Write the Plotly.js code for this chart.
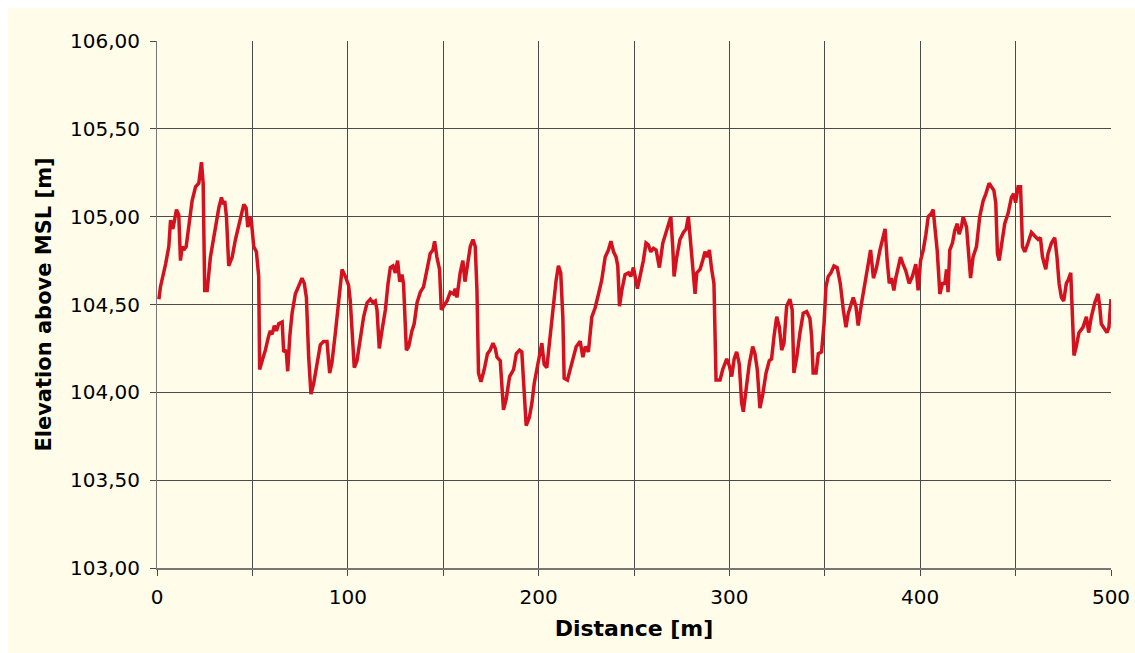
<!DOCTYPE html>
<html>
<head>
<meta charset="utf-8">
<script src="https://cdn.plot.ly/plotly-3.0.1.min.js"></script>
<style>
  html, body { margin: 0; padding: 0; background: #ffffff; width: 1135px; height: 653px; overflow: hidden; }
  #chart { position: absolute; left: 8px; top: 8px; width: 1127px; height: 645px; }
</style>
</head>
<body>
<div id="chart"></div>
<script>
// Distance along profile [m]
const distance = [
  1.0, 1.8, 4.5, 6.2, 7.1, 8.3, 9.2, 10.2, 11.4, 12.3, 13.2, 14.0, 15.3, 16.7, 18.4, 20.2, 21.9, 23.3, 24.2, 25.0,
  26.3, 28.0, 29.7, 31.5, 32.4, 33.8, 34.7, 35.5, 36.4, 37.6, 39.4, 41.1, 42.3, 43.7, 45.5, 46.7, 47.6, 48.6, 49.5, 50.7,
  52.1, 53.3, 53.8, 55.1, 56.8, 58.5, 59.4, 60.3, 61.5, 62.6, 63.8, 65.6, 66.4, 67.7, 68.5, 69.6, 70.8, 72.5, 74.3, 76.0,
  77.2, 78.3, 79.5, 80.7, 82.1, 83.9, 85.6, 87.3, 89.1, 90.5, 91.7, 93.5, 95.2, 97.0, 98.7, 100.4, 101.3, 103.4, 104.8, 106.6,
  108.3, 110.1, 111.8, 113.2, 114.4, 115.3, 116.5, 117.9, 119.7, 121.1, 122.3, 123.7, 124.9, 126.1, 127.2, 128.4, 129.2, 130.7, 131.9, 133.6,
  134.8, 136.3, 138.0, 139.7, 141.5, 143.2, 144.6, 145.5, 146.7, 148.1, 149.0, 150.2, 152.0, 153.7, 155.4, 156.3, 157.2, 158.9, 160.3, 161.4,
  162.8, 164.2, 165.6, 166.8, 167.7, 168.5, 169.8, 171.5, 173.2, 174.6, 176.1, 177.3, 178.2, 179.9, 181.6, 183.0, 184.8, 186.9, 188.3, 190.0,
  191.2, 192.1, 193.5, 195.2, 196.5, 197.7, 199.1, 200.3, 201.7, 202.9, 204.3, 205.7, 207.5, 209.2, 210.4, 211.6, 212.7, 213.4, 215.1, 216.5,
  218.0, 219.7, 221.8, 223.2, 224.5, 226.1, 227.9, 229.6, 231.4, 233.1, 234.9, 236.6, 237.9, 239.3, 240.6, 241.5, 242.4, 243.6, 245.3, 247.1,
  248.3, 249.7, 251.8, 253.2, 254.9, 256.3, 257.5, 258.8, 260.2, 261.6, 263.3, 265.1, 267.2, 269.3, 270.3, 271.0, 272.4, 274.1, 275.9, 277.3,
  278.5, 279.7, 281.1, 282.0, 282.9, 284.6, 286.0, 287.2, 288.4, 289.5, 290.7, 291.9, 293.0, 295.1, 296.5, 298.6, 300.0, 301.2, 302.5, 303.8,
  305.2, 306.4, 307.3, 308.7, 310.4, 312.2, 313.4, 314.6, 316.0, 317.5, 319.2, 320.9, 322.1, 323.4, 324.8, 326.2, 327.4, 328.6, 330.0, 331.7,
  332.9, 333.8, 335.3, 337.0, 338.7, 340.5, 342.2, 343.1, 343.9, 345.4, 346.6, 348.3, 349.6, 350.6, 351.8, 353.2, 354.8, 356.5, 358.1, 359.7,
  361.1, 362.3, 363.5, 364.9, 366.3, 367.5, 369.3, 371.0, 372.8, 374.0, 375.5, 377.1, 378.9, 380.6, 381.6, 382.7, 383.8, 385.0, 386.2, 387.2,
  388.5, 389.7, 391.0, 392.5, 394.2, 395.9, 397.7, 398.9, 400.2, 401.6, 403.0, 404.2, 405.9, 406.8, 407.7, 408.9, 410.3, 411.7, 412.9, 413.8,
  414.6, 415.5, 416.9, 418.1, 419.4, 420.4, 421.6, 422.5, 424.3, 425.3, 426.4, 427.7, 429.5, 431.2, 433.0, 434.4, 436.1, 437.3, 438.6, 439.6,
  440.5, 441.4, 442.6, 444.3, 446.1, 447.8, 449.0, 450.0, 451.3, 452.6, 453.6, 454.8, 456.5, 458.3, 460.0, 461.8, 463.0, 464.1, 465.8, 467.0,
  468.8, 470.5, 471.7, 472.8, 474.0, 475.2, 476.6, 477.6, 478.9, 479.8, 480.6, 481.8, 483.2, 485.3, 487.1, 488.3, 489.7, 491.5, 493.2, 494.1,
  494.9, 496.7, 497.9, 498.9, 499.7, 500.0
];
// Elevation above MSL [m]
const elevation = [
  104.53, 104.60, 104.73, 104.83, 104.98, 104.93, 104.98, 105.04, 105.01, 104.75, 104.83, 104.81, 104.83, 104.96, 105.09, 105.17, 105.19, 105.31, 105.19, 104.58,
  104.58, 104.77, 104.88, 105.02, 105.05, 105.11, 105.07, 105.09, 105.00, 104.72, 104.77, 104.87, 104.93, 105.00, 105.07, 105.05, 104.94, 105.00, 104.97, 104.83,
  104.80, 104.66, 104.13, 104.18, 104.24, 104.32, 104.35, 104.33, 104.38, 104.35, 104.39, 104.40, 104.23, 104.24, 104.12, 104.32, 104.45, 104.56, 104.61, 104.65,
  104.62, 104.54, 104.20, 103.99, 104.05, 104.15, 104.27, 104.29, 104.29, 104.11, 104.17, 104.34, 104.51, 104.70, 104.66, 104.61, 104.52, 104.14, 104.18, 104.32,
  104.43, 104.51, 104.53, 104.51, 104.52, 104.47, 104.25, 104.35, 104.47, 104.62, 104.71, 104.72, 104.68, 104.75, 104.63, 104.67, 104.62, 104.24, 104.26, 104.35,
  104.39, 104.51, 104.57, 104.60, 104.70, 104.79, 104.81, 104.86, 104.77, 104.70, 104.47, 104.49, 104.52, 104.57, 104.56, 104.59, 104.54, 104.68, 104.75, 104.63,
  104.72, 104.83, 104.87, 104.83, 104.58, 104.11, 104.06, 104.13, 104.22, 104.24, 104.28, 104.25, 104.20, 104.18, 103.90, 103.96, 104.09, 104.13, 104.22, 104.24,
  104.23, 104.05, 103.81, 103.86, 103.94, 104.05, 104.12, 104.20, 104.28, 104.16, 104.14, 104.28, 104.49, 104.64, 104.72, 104.68, 104.43, 104.08, 104.07, 104.13,
  104.20, 104.26, 104.29, 104.20, 104.26, 104.23, 104.43, 104.48, 104.56, 104.64, 104.77, 104.81, 104.86, 104.80, 104.77, 104.72, 104.49, 104.58, 104.67, 104.68,
  104.66, 104.71, 104.59, 104.66, 104.75, 104.85, 104.84, 104.80, 104.82, 104.81, 104.71, 104.85, 104.93, 105.00, 104.83, 104.66, 104.77, 104.87, 104.91, 104.93,
  105.00, 104.85, 104.62, 104.56, 104.68, 104.70, 104.75, 104.80, 104.77, 104.81, 104.70, 104.62, 104.07, 104.07, 104.13, 104.19, 104.15, 104.09, 104.19, 104.23,
  104.16, 103.94, 103.89, 104.01, 104.16, 104.26, 104.22, 104.13, 103.91, 103.99, 104.11, 104.18, 104.19, 104.32, 104.43, 104.37, 104.24, 104.28, 104.49, 104.53,
  104.47, 104.11, 104.20, 104.34, 104.45, 104.46, 104.42, 104.32, 104.11, 104.11, 104.22, 104.23, 104.39, 104.60, 104.66, 104.68, 104.72, 104.71, 104.62, 104.47,
  104.37, 104.45, 104.49, 104.54, 104.49, 104.38, 104.51, 104.62, 104.71, 104.81, 104.65, 104.71, 104.81, 104.88, 104.93, 104.75, 104.62, 104.65, 104.58, 104.65,
  104.71, 104.77, 104.73, 104.69, 104.62, 104.66, 104.73, 104.58, 104.75, 104.81, 104.90, 105.00, 105.02, 105.04, 104.94, 104.81, 104.56, 104.62, 104.62, 104.70,
  104.57, 104.81, 104.85, 104.92, 104.96, 104.90, 104.94, 105.00, 104.94, 104.77, 104.65, 104.77, 104.83, 105.00, 105.09, 105.13, 105.19, 105.17, 105.15, 105.08,
  104.79, 104.75, 104.85, 104.96, 105.02, 105.11, 105.13, 105.08, 105.17, 105.17, 104.83, 104.80, 104.85, 104.91, 104.89, 104.87, 104.88, 104.77, 104.70, 104.79,
  104.85, 104.88, 104.77, 104.62, 104.54, 104.52, 104.62, 104.64, 104.68, 104.43, 104.21, 104.26, 104.34, 104.37, 104.43, 104.34, 104.43, 104.51, 104.56, 104.49,
  104.39, 104.36, 104.34, 104.37, 104.51, 104.53
];

const xTickVals = [0, 50, 100, 150, 200, 250, 300, 350, 400, 450, 500];
const xTickText = ['0', '', '100', '', '200', '', '300', '', '400', '', '500'];
const yTickVals = [103.0, 103.5, 104.0, 104.5, 105.0, 105.5, 106.0];
const yTickText = ['103,00', '103,50', '104,00', '104,50', '105,00', '105,50', '106,00'];

const cream = '#FFFDE9';
const gridCol = '#4a4a4a';

const trace = {
  x: distance,
  y: elevation,
  type: 'scatter',
  mode: 'lines',
  line: { color: '#D3111F', width: 3.5 },
  hoverinfo: 'x+y'
};

const layout = {
  width: 1127,
  height: 645,
  paper_bgcolor: cream,
  plot_bgcolor: cream,
  margin: { l: 149, r: 24, t: 33, b: 85 },
  showlegend: false,
  font: { family: 'DejaVu Sans, Arial, sans-serif', color: '#000000' },
  xaxis: {
    range: [0, 500],
    tickmode: 'array',
    tickvals: xTickVals,
    ticktext: xTickText,
    ticks: 'outside',
    ticklen: 6,
    tickcolor: gridCol,
    tickwidth: 1,
    ticklabelstandoff: 4,
    showgrid: true,
    gridcolor: gridCol,
    gridwidth: 1,
    showline: true,
    linecolor: '#777777',
    linewidth: 2,
    zeroline: false,
    tickfont: { family: 'DejaVu Sans, Arial, sans-serif', size: 20, color: '#000000' },
    title: {
      text: 'Distance [m]',
      font: { family: 'DejaVu Sans, Arial, sans-serif', size: 22, color: '#000000', weight: 'bold' },
      standoff: 13
    },
    automargin: false
  },
  yaxis: {
    range: [103, 106],
    tickmode: 'array',
    tickvals: yTickVals,
    ticktext: yTickText,
    ticks: 'outside',
    ticklen: 6,
    tickcolor: gridCol,
    tickwidth: 1,
    ticklabelstandoff: 6,
    showgrid: true,
    gridcolor: gridCol,
    gridwidth: 1,
    showline: true,
    linecolor: '#777777',
    linewidth: 1,
    zeroline: false,
    tickfont: { family: 'DejaVu Sans, Arial, sans-serif', size: 20, color: '#000000' },
    title: {
      text: 'Elevation above MSL [m]',
      font: { family: 'DejaVu Sans, Arial, sans-serif', size: 21, color: '#000000', weight: 'bold' },
      standoff: 12
    },
    automargin: false
  }
};

Plotly.newPlot('chart', [trace], layout, { displayModeBar: false, staticPlot: true });
</script>
</body>
</html>
